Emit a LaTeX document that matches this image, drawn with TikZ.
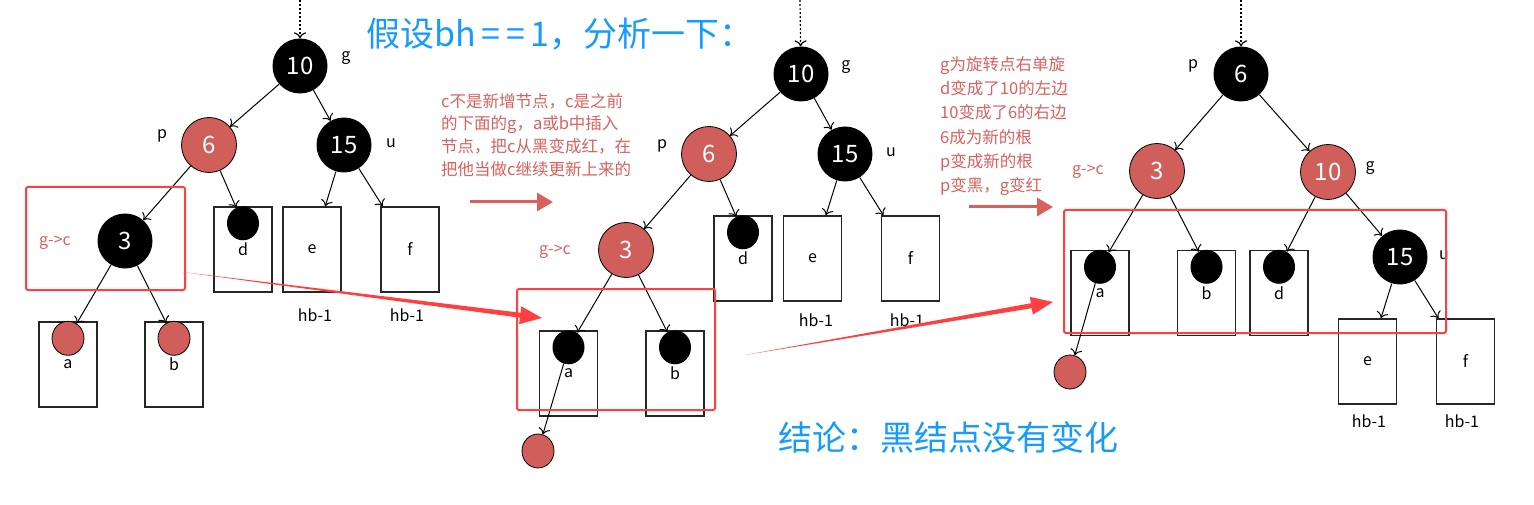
\documentclass[tikz,border=0pt]{standalone}
\usepackage{fontspec}
\setmainfont{Noto Sans CJK SC}
\usepackage{xcolor}
\usetikzlibrary{shapes.geometric,arrows.meta,calc}
\definecolor{nodered}{RGB}{208,94,90}
\definecolor{notered}{RGB}{218,96,94}
\definecolor{boxred}{RGB}{255,64,64}
\definecolor{titleblue}{RGB}{22,155,250}

\begin{document}
\begin{tikzpicture}[
  x=1pt,y=-1pt,
  bnode/.style={circle,fill=black,text=white,minimum size=55pt,inner sep=0pt,font=\fontsize{24}{24}\selectfont},
  rnode/.style={circle,draw=black,line width=0.8pt,fill=nodered,text=white,minimum size=55pt,inner sep=0pt,font=\fontsize{24}{24}\selectfont},
  leafb/.style={ellipse,fill=black,minimum width=32pt,minimum height=34pt,inner sep=0pt},
  leafr/.style={ellipse,draw=black,line width=0.8pt,fill=nodered,minimum width=32pt,minimum height=34pt,inner sep=0pt},
  subtree/.style={rectangle,draw=black!85,line width=1.4pt,minimum width=58pt,minimum height=85pt,inner sep=0pt,font=\fontsize{16}{16}\selectfont},
  tag/.style={font=\fontsize{16}{16}\selectfont,inner sep=0pt},
  rtag/.style={tag,text=notered},
  edge/.style={-{To[length=6pt,width=12pt]},line width=1pt},
  rootin/.style={edge,line width=1.2pt,dash pattern=on 2pt off 2pt},
  focus/.style={draw=boxred,line width=2pt,rounded corners=2pt},
  note/.style={text=notered,align=left,inner sep=0pt,anchor=west},
  flowarrow/.style={notered,line width=3pt,-{Triangle[length=16pt,width=18pt]}},
  bigtitle/.style={text=titleblue,inner sep=0pt,font=\fontsize{34}{34}\selectfont}
]
  \useasboundingbox (0,0) rectangle (1534,505);

  \node[bigtitle] (title) at (560,34) {假设bh\,=\,=\,1，分析一下：};
  \node[bigtitle] (concl) at (948,437) {结论：黑结点没有变化};

  % before
  \coordinate (top1) at (300,0);
  \node[bnode] (g1) at (300,66) {10};
  \node[rnode] (p1) at (209,145) {6};
  \node[bnode] (u1) at (344,145) {15};
  \node[bnode] (c1) at (125,241) {3};
  \node[subtree] (ba1) at (68,364.5) {a};
  \node[subtree] (bb1) at (174,364.5) {b};
  \node[subtree] (bd1) at (243,249.5) {d};
  \node[subtree] (be1) at (312,249.5) {e};
  \node[subtree] (bf1) at (410,249.5) {f};
  \node[leafr] (la1) at ([yshift=-17pt]ba1.north) {};
  \node[leafr] (lb1) at ([yshift=-17pt]bb1.north) {};
  \node[leafb] (ld1) at ([yshift=-17pt]bd1.north) {};
  \node[tag] (tg1) at (346,58) {g};
  \node[tag] (tp1) at (162,136) {p};
  \node[tag] (tu1) at (391,143) {u};
  \node[rtag] (tc1) at (55,243) {g->c};
  \node[tag] (he1) at (315,315) {hb-1};
  \node[tag] (hf1) at (407,315) {hb-1};
  \draw[rootin] (top1) -- (g1);
  \draw[edge] (g1) -- (p1);
  \draw[edge] (g1) -- (u1);
  \draw[edge] (p1) -- (c1);
  \draw[edge] (p1) -- (ld1);
  \draw[edge] (u1) -- (be1);
  \draw[edge] (u1) -- (bf1);
  \draw[edge] (c1) -- (la1);
  \draw[edge] (c1) -- (lb1);
  \draw[focus] (26,187) rectangle (185,290);

  \node[note,font=\fontsize{16.5}{22.8}\selectfont] (note1) at (441,135)
    {c不是新增节点，c是之前\\的下面的g，a或b中插入\\节点，把c从黑变成红，在\\把他当做c继续更新上来的};
  \coordinate (f1s) at (470,202);
  \coordinate (f1e) at (553,202);
  \draw[flowarrow] (f1s) -- (f1e);

  % after recolouring
  \coordinate (top2) at (800,0);
  \node[bnode] (g2) at (801,74) {10};
  \node[rnode] (p2) at (709,154) {6};
  \node[bnode] (u2) at (845,154) {15};
  \node[rnode] (c2) at (626,250) {3};
  \node[subtree] (ba2) at (568.5,373.5) {a};
  \node[subtree] (bb2) at (675,373.5) {b};
  \node[subtree] (bd2) at (743,258.5) {d};
  \node[subtree] (be2) at (812.5,258.5) {e};
  \node[subtree] (bf2) at (910.5,258.5) {f};
  \node[leafb] (la2) at ([yshift=-17pt]ba2.north) {};
  \node[leafb] (lb2) at ([yshift=-17pt]bb2.north) {};
  \node[leafb] (ld2) at ([yshift=-17pt]bd2.north) {};
  \node[leafr] (x2) at (538,451) {};
  \node[tag] (tg2) at (846,67) {g};
  \node[tag] (tp2) at (662,146) {p};
  \node[tag] (tu2) at (891,152) {u};
  \node[rtag] (tc2) at (555,252) {g->c};
  \node[tag] (he2) at (816,320) {hb-1};
  \node[tag] (hf2) at (907,320) {hb-1};
  \draw[rootin] (top2) -- (g2);
  \draw[edge] (g2) -- (p2);
  \draw[edge] (g2) -- (u2);
  \draw[edge] (p2) -- (c2);
  \draw[edge] (p2) -- (ld2);
  \draw[edge] (u2) -- (be2);
  \draw[edge] (u2) -- (bf2);
  \draw[edge] (c2) -- (la2);
  \draw[edge] (c2) -- (lb2);
  \draw[edge] (la2) -- (x2);
  \draw[focus] (517,289) rectangle (715,410);

  \node[note,font=\fontsize{16.5}{24.3}\selectfont] (note2) at (940,126)
    {g为旋转点右单旋\\d变成了10的左边\\10变成了6的右边\\6成为新的根\\p变成新的根\\p变黑，g变红};
  \coordinate (f2s) at (969,207);
  \coordinate (f2e) at (1053,207);
  \draw[flowarrow] (f2s) -- (f2e);

  % after rotation
  \coordinate (top3) at (1241,0);
  \node[bnode] (p3) at (1241,74) {6};
  \node[rnode] (c3) at (1157,171) {3};
  \node[rnode] (g3) at (1328,172) {10};
  \node[bnode] (u3) at (1400,257) {15};
  \node[subtree] (ba3) at (1100,293) {a};
  \node[subtree] (bb3) at (1206.5,293) {b};
  \node[subtree] (bd3) at (1279,293) {d};
  \node[subtree] (be3) at (1367.5,361.5) {e};
  \node[subtree] (bf3) at (1465.5,361.5) {f};
  \node[leafb] (la3) at ([yshift=-17pt]ba3.north) {};
  \node[leafb] (lb3) at ([yshift=-17pt]bb3.north) {};
  \node[leafb] (ld3) at ([yshift=-17pt]bd3.north) {};
  \node[leafr] (x3) at (1070,372) {};
  \node[tag] (tp3) at (1193,66) {p};
  \node[rtag] (tc3) at (1088,172) {g->c};
  \node[tag] (tg3) at (1370,168) {g};
  \node[tag] (tu3) at (1444,255) {u};
  \node[tag] (he3) at (1369,421) {hb-1};
  \node[tag] (hf3) at (1462,421) {hb-1};
  \draw[rootin] (top3) -- (p3);
  \draw[edge] (p3) -- (c3);
  \draw[edge] (p3) -- (g3);
  \draw[edge] (c3) -- (la3);
  \draw[edge] (c3) -- (lb3);
  \draw[edge] (g3) -- (ld3);
  \draw[edge] (g3) -- (u3);
  \draw[edge] (u3) -- (be3);
  \draw[edge] (u3) -- (bf3);
  \draw[edge] (la3) -- (x3);
  \draw[focus] (1064,210) rectangle (1446,333);

  % moved subtrees
  \coordinate (m1s) at (182,272);
  \coordinate (m1t) at (542,318);
  \coordinate (m1h) at ($(m1t)!22pt!(m1s)$);
  \fill[boxred] (m1s) -- ($(m1h)!2.5pt!90:(m1t)$) -- ($(m1h)!9pt!90:(m1t)$) -- (m1t)
    -- ($(m1h)!9pt!-90:(m1t)$) -- ($(m1h)!2.5pt!-90:(m1t)$) -- cycle;
  \coordinate (m2s) at (745,355);
  \coordinate (m2t) at (1053,302);
  \coordinate (m2h) at ($(m2t)!22pt!(m2s)$);
  \fill[boxred] (m2s) -- ($(m2h)!2.5pt!90:(m2t)$) -- ($(m2h)!9pt!90:(m2t)$) -- (m2t)
    -- ($(m2h)!9pt!-90:(m2t)$) -- ($(m2h)!2.5pt!-90:(m2t)$) -- cycle;
\end{tikzpicture}
\end{document}
